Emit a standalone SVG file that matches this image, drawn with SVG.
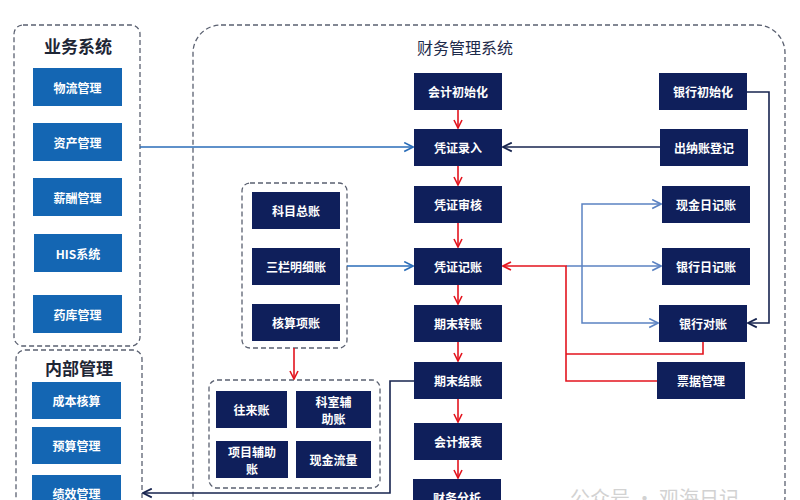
<svg xmlns="http://www.w3.org/2000/svg" width="800" height="500" viewBox="0 0 800 500">
<style>
text{font-family:"Noto Sans CJK SC","Noto Sans",sans-serif;}
.grp{fill:none;stroke:#5a6070;stroke-width:1.3;stroke-dasharray:5 3;}
.bb rect{fill:#1466b3;}
.nv rect{fill:#0f1f5b;}
.lb{fill:#fff;font-size:12px;font-weight:bold;text-anchor:middle;dominant-baseline:central;}
.ttl{fill:#1d2535;font-size:17px;font-weight:bold;text-anchor:middle;}
.red{fill:none;stroke:#e3141e;stroke-width:1.6;}
.blu{fill:none;stroke:#2a6db8;stroke-width:1.5;}
.lbl{fill:none;stroke:#5b82c2;stroke-width:1.5;}
.dk{fill:none;stroke:#17244f;stroke-width:1.6;}
</style>
<defs>
<marker id="mr" viewBox="0 0 10 10" refX="9" refY="5" markerWidth="10" markerHeight="10" markerUnits="userSpaceOnUse" orient="auto"><path d="M1,1 L9,5 L1,9" fill="none" stroke="#e3141e" stroke-width="1.6"/></marker>
<marker id="mb" viewBox="0 0 10 10" refX="9" refY="5" markerWidth="11" markerHeight="11" markerUnits="userSpaceOnUse" orient="auto"><path d="M1,1 L9,5 L1,9" fill="none" stroke="#2a6db8" stroke-width="1.5"/></marker>
<marker id="ml" viewBox="0 0 10 10" refX="9" refY="5" markerWidth="11" markerHeight="11" markerUnits="userSpaceOnUse" orient="auto"><path d="M1,1 L9,5 L1,9" fill="none" stroke="#5b82c2" stroke-width="1.5"/></marker>
<marker id="md" viewBox="0 0 10 10" refX="9" refY="5" markerWidth="11" markerHeight="11" markerUnits="userSpaceOnUse" orient="auto"><path d="M1,1 L9,5 L1,9" fill="none" stroke="#17244f" stroke-width="1.6"/></marker>
</defs>
<rect width="800" height="500" fill="#fff"/>

<!-- group frames -->
<g id="frames">
<rect class="grp" x="14" y="25" width="126" height="321" rx="9"/>
<rect class="grp" x="16" y="350" width="126" height="170" rx="9"/>
<rect class="grp" x="193" y="25" width="592" height="500" rx="28"/>
<rect class="grp" x="242" y="183" width="105" height="165" rx="8"/>
<rect class="grp" x="209" y="380" width="171" height="108" rx="8"/>
<text class="ttl" x="78" y="53">业务系统</text>
<text class="ttl" x="79" y="375">内部管理</text>
<text x="465" y="54" fill="#1d2a4a" font-size="16" text-anchor="middle">财务管理系统</text>
</g>

<!-- business system -->
<g id="wuliu" class="bb"><rect x="33" y="68" width="89" height="38"/><text class="lb" x="77.5" y="87">物流管理</text></g>
<g id="zichan" class="bb"><rect x="33" y="123" width="89" height="38"/><text class="lb" x="77.5" y="142">资产管理</text></g>
<g id="xinchou" class="bb"><rect x="33" y="178" width="89" height="38"/><text class="lb" x="77.5" y="197">薪酬管理</text></g>
<g id="his" class="bb"><rect x="34" y="234" width="88" height="38"/><text class="lb" x="78" y="253">HIS系统</text></g>
<g id="yaoku" class="bb"><rect x="33" y="295" width="89" height="38"/><text class="lb" x="77.5" y="314">药库管理</text></g>

<!-- internal -->
<g id="chengben" class="bb"><rect x="32" y="382" width="89" height="37"/><text class="lb" x="76.5" y="400.5">成本核算</text></g>
<g id="yusuan" class="bb"><rect x="32" y="427" width="89" height="37"/><text class="lb" x="76.5" y="445.5">预算管理</text></g>
<g id="jixiao" class="bb"><rect x="32" y="475" width="89" height="37"/><text class="lb" x="76.5" y="493">绩效管理</text></g>

<!-- center column -->
<g id="kjcsh" class="nv"><rect x="414" y="73" width="88" height="37"/><text class="lb" x="458" y="91.5">会计初始化</text></g>
<g id="pzlr" class="nv"><rect x="414" y="129" width="88" height="37"/><text class="lb" x="458" y="147.5">凭证录入</text></g>
<g id="pzsh" class="nv"><rect x="414" y="186" width="88" height="37"/><text class="lb" x="458" y="204.5">凭证审核</text></g>
<g id="pzjz" class="nv"><rect x="414" y="248" width="88" height="37"/><text class="lb" x="458" y="266.5">凭证记账</text></g>
<g id="qmzz" class="nv"><rect x="414" y="305" width="88" height="37"/><text class="lb" x="458" y="323.5">期末转账</text></g>
<g id="qmjz" class="nv"><rect x="414" y="362" width="88" height="37"/><text class="lb" x="458" y="380.5">期末结账</text></g>
<g id="kjbb" class="nv"><rect x="414" y="423" width="88" height="37"/><text class="lb" x="458" y="441.5">会计报表</text></g>
<g id="cwfx" class="nv"><rect x="413" y="479" width="88" height="37"/><text class="lb" x="457" y="497">财务分析</text></g>

<!-- right column -->
<g id="yhcsh" class="nv"><rect x="659" y="73" width="88" height="37"/><text class="lb" x="703" y="91.5">银行初始化</text></g>
<g id="cnzdj" class="nv"><rect x="660" y="129" width="88" height="37"/><text class="lb" x="704" y="147.5">出纳账登记</text></g>
<g id="xjrjz" class="nv"><rect x="662" y="186" width="88" height="37"/><text class="lb" x="706" y="204.5">现金日记账</text></g>
<g id="yhrjz" class="nv"><rect x="662" y="248" width="88" height="37"/><text class="lb" x="706" y="266.5">银行日记账</text></g>
<g id="yhdz" class="nv"><rect x="659" y="305" width="88" height="37"/><text class="lb" x="703" y="323.5">银行对账</text></g>
<g id="pjgl" class="nv"><rect x="657" y="362" width="88" height="37"/><text class="lb" x="701" y="380.5">票据管理</text></g>

<!-- ledgers -->
<g id="kmzz" class="nv"><rect x="252" y="192" width="88" height="37"/><text class="lb" x="296" y="210.5">科目总账</text></g>
<g id="slmxz" class="nv"><rect x="252" y="248" width="88" height="37"/><text class="lb" x="296" y="266.5">三栏明细账</text></g>
<g id="hsxz" class="nv"><rect x="252" y="304" width="88" height="37"/><text class="lb" x="296" y="322.5">核算项账</text></g>

<g id="wlz" class="nv"><rect x="216" y="391" width="71" height="37"/><text class="lb" x="251.5" y="409.5">往来账</text></g>
<g id="ksfzz" class="nv"><rect x="296" y="391" width="75" height="37"/><text class="lb" x="333.5" y="401.5">科室辅</text><text class="lb" x="333.5" y="418">助账</text></g>
<g id="xmfzz" class="nv"><rect x="216" y="441" width="72" height="37"/><text class="lb" x="252" y="451.5">项目辅助</text><text class="lb" x="252" y="468">账</text></g>
<g id="xjll" class="nv"><rect x="296" y="441" width="75" height="37"/><text class="lb" x="333.5" y="459.5">现金流量</text></g>

<!-- connectors -->
<g id="connectors">
<path class="red" d="M458,110 V128" marker-end="url(#mr)"/>
<path class="red" d="M458,166 V185" marker-end="url(#mr)"/>
<path class="red" d="M458,223 V247" marker-end="url(#mr)"/>
<path class="red" d="M458,285 V304" marker-end="url(#mr)"/>
<path class="red" d="M458,342 V361" marker-end="url(#mr)"/>
<path class="red" d="M458,399 V422" marker-end="url(#mr)"/>
<path class="red" d="M458,460 V478" marker-end="url(#mr)"/>
<path class="red" d="M294,348 V379" marker-end="url(#mr)"/>
<path class="blu" d="M140,147 H413" marker-end="url(#mb)"/>
<path class="blu" d="M347,266 H413" marker-end="url(#mb)"/>
<path class="dk" d="M660,147 H503" marker-end="url(#md)"/>
<path class="dk" d="M747,92 H769 V323 H748" marker-end="url(#md)"/>
<path class="lbl" d="M566,266 H661" marker-end="url(#ml)"/>
<path class="lbl" d="M582,266 V204 H661" marker-end="url(#ml)"/>
<path class="lbl" d="M582,266 V323 H658" marker-end="url(#ml)"/>
<path class="red" d="M703,342 V354 H566"/>
<path class="red" d="M657,381 H566 V266 H503" marker-end="url(#mr)"/>
<path class="dk" d="M414,381 H390 V493 H143" marker-end="url(#md)"/>
</g>
<text x="570" y="506" fill="#c8c8c8" font-size="20" opacity="0.8">公众号 · 观海日记</text>
</svg>
